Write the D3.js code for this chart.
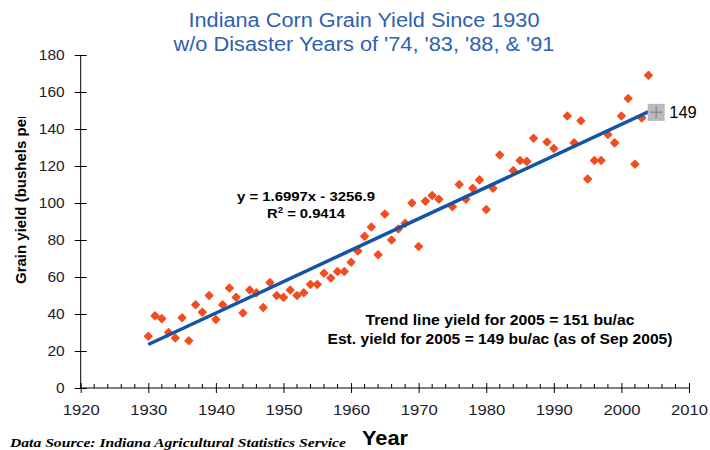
<!DOCTYPE html>
<html lang="en">
<head>
    <meta charset="UTF-8">
    <title>Indiana Corn Grain Yield Since 1930</title>
    <style>
        body { margin: 0; background: #fff; }
        svg { display: block; font-family: "Liberation Sans", Arial, sans-serif; }
    </style>
</head>
<body>
    <svg id="chart" width="710" height="450"></svg>

    <script src="https://d3js.org/d3.v7.min.js"></script>
    <script>
        // Yield data (bu/ac), disaster years '74, '83, '88, '91 left out
        const years = [1930, 1931, 1932, 1933, 1934, 1935, 1936, 1937, 1938, 1939,
                       1940, 1941, 1942, 1943, 1944, 1945, 1946, 1947, 1948, 1949,
                       1950, 1951, 1952, 1953, 1954, 1955, 1956, 1957, 1958, 1959,
                       1960, 1961, 1962, 1963, 1964, 1965, 1966, 1967, 1968, 1969,
                       1970, 1971, 1972, 1973, 1975, 1976, 1977, 1978, 1979,
                       1980, 1981, 1982, 1984, 1985, 1986, 1987, 1989,
                       1990, 1992, 1993, 1994, 1995, 1996, 1997, 1998, 1999,
                       2000, 2001, 2002, 2003, 2004];
        const yields = [28, 39, 37.5, 30, 27, 38, 25.5, 45, 41, 50,
                        37, 45, 54, 49, 40.5, 53, 51.5, 43.5, 57, 50,
                        49, 53, 50, 51.5, 56, 56, 62, 59.5, 63, 63,
                        68, 74, 82, 87, 72, 94, 80, 86, 89, 100,
                        76.5, 101, 104, 102, 98, 110, 102, 108, 112.5,
                        96.5, 108, 126, 117.5, 123, 122.5, 135, 133,
                        129.5, 147, 132.5, 144.5, 113, 123, 123, 137, 132.5,
                        147, 156.5, 121, 146, 169];

        // Trend line y = 1.6997x - 3256.9, drawn over 1930-2005
        const trendSlope = 1.6997, trendIntercept = -3256.9;
        const trendYears = [1930, 2005];

        // 2005 estimate
        const estYear = 2005, estYield = 149;

        const xTicks = [1920, 1930, 1940, 1950, 1960, 1970, 1980, 1990, 2000, 2010];
        const yTicks = [0, 20, 40, 60, 80, 100, 120, 140, 160, 180];

        const titleLines = ["Indiana Corn Grain Yield Since 1930",
                            "w/o Disaster Years of '74, '83, '88, & '91"];
        const noteLines = ["Trend line yield for 2005 = 151 bu/ac",
                           "Est. yield for 2005 = 149 bu/ac (as of Sep 2005)"];

        const svg = d3.select("#chart");
        const plotLeft = 80.7, plotRight = 689, plotTop = 55, plotBottom = 388;

        const x = d3.scaleLinear().domain([1920, 2010]).range([plotLeft, plotRight]);
        const y = d3.scaleLinear().domain([0, 180]).range([plotBottom, plotTop]);

        // Title (the original is a little stretched sideways)
        const titleWidths = [351, 381];
        svg.append("g").selectAll("text")
            .data(titleLines)
            .enter()
            .append("text")
            .attr("x", 364)
            .attr("y", (d, i) => 27 + i * 24)
            .attr("text-anchor", "middle")
            .attr("font-size", 19.5)
            .attr("fill", "#2d60b2")
            .attr("textLength", (d, i) => titleWidths[i])
            .attr("lengthAdjust", "spacingAndGlyphs")
            .text(d => d);

        // Y axis
        const yAxis = svg.append("g")
            .attr("transform", `translate(${plotLeft},0)`)
            .call(d3.axisLeft(y).tickValues(yTicks).tickSize(6).tickPadding(10));
        yAxis.select(".domain").remove();
        yAxis.append("line")
            .attr("y1", plotTop).attr("y2", plotBottom)
            .attr("stroke", "#000");
        yAxis.selectAll(".tick line").attr("x2", 6).attr("x1", -6).attr("stroke", "#000");
        yAxis.selectAll(".tick text")
            .attr("font-size", 15.5)
            .attr("fill", "#1c1c2c")
            .attr("font-family", "Liberation Sans, Arial, sans-serif");

        // X axis, major ticks crossing the line, minor ticks every 2 years
        const xAxis = svg.append("g")
            .attr("transform", `translate(0,${plotBottom})`)
            .call(d3.axisBottom(x).tickValues(xTicks).tickFormat(d3.format("d")).tickSize(5).tickPadding(11));
        xAxis.select(".domain").remove();
        xAxis.append("line")
            .attr("x1", plotLeft).attr("x2", plotRight)
            .attr("stroke", "#000");
        xAxis.selectAll(".tick line").attr("y1", -5).attr("stroke", "#000");
        xAxis.selectAll(".tick text")
            .attr("font-size", 15.5)
            .attr("fill", "#1c1c2c")
            .attr("textLength", 37)
            .attr("lengthAdjust", "spacingAndGlyphs")
            .attr("font-family", "Liberation Sans, Arial, sans-serif");
        const minor = d3.range(1920, 2011, 2).filter(v => v % 10 !== 0);
        xAxis.selectAll(".minor")
            .data(minor)
            .enter()
            .append("line")
            .attr("class", "minor")
            .attr("x1", d => x(d)).attr("x2", d => x(d))
            .attr("y1", -4).attr("y2", 0)
            .attr("stroke", "#000");

        // Y axis title, cut off at the top like the original
        svg.append("clipPath").attr("id", "ylabClip")
            .append("rect").attr("x", 0).attr("y", 117).attr("width", 40).attr("height", 250);
        svg.append("g")
            .attr("clip-path", "url(#ylabClip)")
            .append("text")
            .attr("transform", "translate(26,284) rotate(-90)")
            .attr("font-size", 15)
            .attr("font-weight", "bold")
            .attr("fill", "#000")
            .text("Grain yield (bushels per acre)");

        // X axis title
        svg.append("text")
            .attr("x", 385).attr("y", 445)
            .attr("text-anchor", "middle")
            .attr("font-size", 20)
            .attr("font-weight", "bold")
            .attr("fill", "#000")
            .attr("textLength", 46)
            .attr("lengthAdjust", "spacingAndGlyphs")
            .text("Year");

        svg.append("text")
            .attr("x", 10).attr("y", 447)
            .attr("font-family", "Liberation Serif, Times New Roman, serif")
            .attr("font-style", "italic")
            .attr("font-weight", "bold")
            .attr("font-size", 13.5)
            .attr("fill", "#000")
            .attr("textLength", 336)
            .attr("lengthAdjust", "spacingAndGlyphs")
            .text("Data Source: Indiana Agricultural Statistics Service");

        // Points
        const points = years.map((yr, i) => ({ year: yr, value: yields[i] }));
        svg.append("g").selectAll("path")
            .data(points)
            .enter()
            .append("path")
            .attr("d", d3.symbol(d3.symbolSquare, 28))
            .attr("transform", d => `translate(${x(d.year)},${y(d.value)}) rotate(45)`)
            .attr("fill", "#f24d1f")
            .attr("stroke", "#f24d1f")
            .attr("stroke-width", 1.5)
            .attr("stroke-linejoin", "round");

        // Trend line
        svg.append("line")
            .attr("x1", x(trendYears[0]))
            .attr("y1", y(trendSlope * trendYears[0] + trendIntercept))
            .attr("x2", x(trendYears[1]))
            .attr("y2", y(trendSlope * trendYears[1] + trendIntercept))
            .attr("stroke", "#1453a6")
            .attr("stroke-width", 3.5);

        // 2005 estimate marker
        const ex = x(estYear), ey = y(estYield);
        svg.append("rect")
            .attr("x", ex - 7.5).attr("y", ey - 8.5)
            .attr("width", 17).attr("height", 17)
            .attr("fill", "#b7bbbe");
        svg.append("path")
            .attr("d", `M${ex - 5},${ey}H${ex + 7}M${ex + 1},${ey - 6}V${ey + 6}`)
            .attr("stroke", "#8a8f93")
            .attr("stroke-width", 1.5);
        svg.append("text")
            .attr("x", ex + 14).attr("y", ey + 6)
            .attr("font-size", 16.5)
            .attr("fill", "#000")
            .text(estYield);

        // Regression equation
        svg.append("text")
            .attr("x", 306).attr("y", 201)
            .attr("text-anchor", "middle")
            .attr("font-size", 13)
            .attr("font-weight", "bold")
            .attr("textLength", 138)
            .attr("lengthAdjust", "spacingAndGlyphs")
            .text("y = 1.6997x - 3256.9");
        const r2 = svg.append("text")
            .attr("x", 267).attr("y", 218)
            .attr("font-size", 13)
            .attr("font-weight", "bold")
            .attr("textLength", 78)
            .attr("lengthAdjust", "spacingAndGlyphs");
        r2.append("tspan").text("R");
        r2.append("tspan").attr("font-size", 8.5).attr("dy", -5).text("2");
        r2.append("tspan").attr("dy", 5).text(" = 0.9414");

        // Notes
        const noteWidths = [269, 345];
        svg.append("g").selectAll("text")
            .data(noteLines)
            .enter()
            .append("text")
            .attr("x", 500)
            .attr("y", (d, i) => 325 + i * 19)
            .attr("text-anchor", "middle")
            .attr("font-size", 14)
            .attr("font-weight", "bold")
            .attr("textLength", (d, i) => noteWidths[i])
            .attr("lengthAdjust", "spacingAndGlyphs")
            .text(d => d);
    </script>
</body>
</html>
